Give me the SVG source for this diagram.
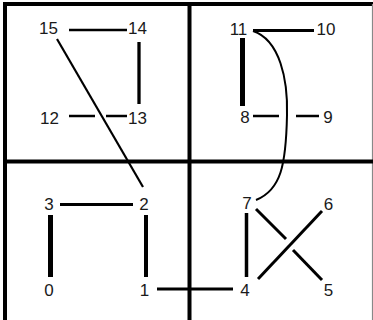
<svg xmlns="http://www.w3.org/2000/svg" width="373" height="320" viewBox="0 0 373 320">
<style>
.lbl{font-family:"Liberation Sans",Arial,sans-serif;font-size:17px;fill:#1a1a1a;text-anchor:middle}
.e{stroke:#000;fill:none;stroke-linecap:butt}
.frame{stroke:#000;fill:none;stroke-width:4}
</style>
<rect width="373" height="320" fill="#fff"/>
<g id="frame">
<line class="frame" x1="5" y1="4" x2="5" y2="320"/>
<line class="frame" x1="3" y1="4" x2="373" y2="4"/>
<line x1="372.5" y1="4" x2="372.5" y2="320" stroke="#888" stroke-width="1.2"/>
<line class="frame" x1="189.5" y1="4" x2="189.5" y2="320"/>
<line class="frame" x1="5" y1="161.5" x2="373" y2="161.5"/>
</g>
<g id="connectors">
<line class="e" x1="69" y1="30" x2="127" y2="30" stroke-width="2.5"/>
<line class="e" x1="139" y1="42" x2="139" y2="104" stroke-width="3.3"/>
<line class="e" x1="69" y1="116" x2="95" y2="116" stroke-width="2.5"/>
<line class="e" x1="106" y1="116" x2="127" y2="116" stroke-width="2.5"/>
<line class="e" x1="57" y1="39" x2="143" y2="187" stroke-width="2.2"/>
<line class="e" x1="253" y1="30.5" x2="314" y2="30.5" stroke-width="3"/>
<line class="e" x1="242.5" y1="38" x2="242.5" y2="106" stroke-width="5"/>
<line class="e" x1="253" y1="116" x2="279" y2="116" stroke-width="2.5"/>
<line class="e" x1="296" y1="116" x2="319" y2="116" stroke-width="2.5"/>
<path class="e" d="M253,31 C280,40 288,80 287,115 C286,165 281,190 256,200" stroke-width="2"/>
<line class="e" x1="60" y1="204.5" x2="133" y2="204.5" stroke-width="2.8"/>
<line class="e" x1="50.5" y1="215" x2="50.5" y2="277" stroke-width="5"/>
<line class="e" x1="146" y1="215" x2="146" y2="277" stroke-width="4"/>
<line class="e" x1="157" y1="289" x2="233" y2="289" stroke-width="3"/>
<line class="e" x1="246.5" y1="213" x2="246.5" y2="277" stroke-width="3.5"/>
<line class="e" x1="258" y1="279" x2="322" y2="211" stroke-width="3"/>
<line class="e" x1="256" y1="209" x2="286" y2="239" stroke-width="3"/>
<line class="e" x1="293" y1="250" x2="322" y2="280" stroke-width="3"/>
</g>
<g id="n15"><text class="lbl" x="48.5" y="34">15</text></g>
<g id="n14"><text class="lbl" x="137.5" y="34">14</text></g>
<g id="n12"><text class="lbl" x="49.5" y="124">12</text></g>
<g id="n13"><text class="lbl" x="137.5" y="124">13</text></g>
<g id="n11"><text class="lbl" x="238.5" y="35">11</text></g>
<g id="n10"><text class="lbl" x="326" y="35">10</text></g>
<g id="n8"><text class="lbl" x="245" y="123">8</text></g>
<g id="n9"><text class="lbl" x="328" y="123">9</text></g>
<g id="n3"><text class="lbl" x="49" y="210">3</text></g>
<g id="n2"><text class="lbl" x="144" y="210">2</text></g>
<g id="n0"><text class="lbl" x="49" y="296">0</text></g>
<g id="n1"><text class="lbl" x="144.5" y="296">1</text></g>
<g id="n7"><text class="lbl" x="247" y="209">7</text></g>
<g id="n6"><text class="lbl" x="328.5" y="210">6</text></g>
<g id="n4"><text class="lbl" x="245" y="296">4</text></g>
<g id="n5"><text class="lbl" x="328.5" y="296">5</text></g>
</svg>
